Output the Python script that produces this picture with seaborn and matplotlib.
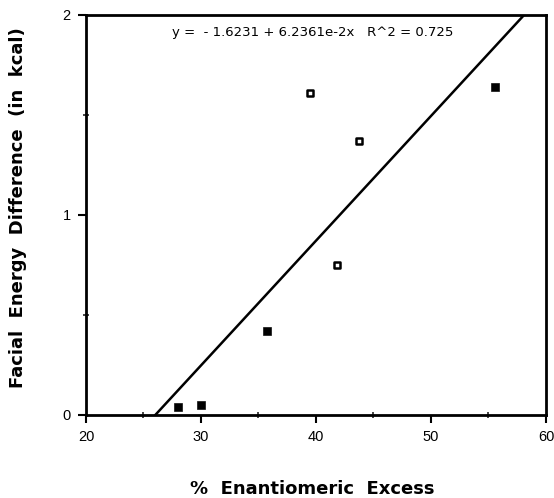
import matplotlib
matplotlib.use("Agg")
import matplotlib.pyplot as plt
import seaborn as sns
import numpy as np
import pandas as pd

# Data
enantiomeric_excess = [28.0, 30.0, 35.75, 39.5, 41.8, 43.75, 55.6]
energy_difference = [0.04, 0.05, 0.42, 1.61, 0.75, 1.37, 1.64]
hollow = [False, False, False, True, True, True, False]

# Fit line as printed on the chart
intercept = -1.6231
slope = 6.2361e-2
fit_x = [20, 60]

x_ticks = [20, 30, 40, 50, 60]
y_ticks = [0, 1, 2]
equation = "y =  - 1.6231 + 6.2361e-2x   R^2 = 0.725"


def main():
    sns.set_theme(style="ticks")
    plt.rcParams["font.family"] = ["Liberation Sans", "DejaVu Sans"]
    plt.rcParams["text.color"] = "black"
    plt.rcParams["axes.labelcolor"] = "black"

    df = pd.DataFrame({"x": enantiomeric_excess, "y": energy_difference, "hollow": hollow})
    fit = pd.DataFrame({"x": fit_x})
    fit["y"] = intercept + slope * fit["x"]

    fig = plt.figure(figsize=(5.54, 4.98), dpi=100)
    ax = fig.add_axes([0.1552, 0.1667, 0.8303, 0.8032])

    sns.lineplot(data=fit, x="x", y="y", color="black", linewidth=1.8, ax=ax)
    sns.scatterplot(data=df[~df["hollow"]], x="x", y="y", marker="s", s=30,
                    color="black", edgecolor="black", ax=ax, zorder=3)
    sns.scatterplot(data=df[df["hollow"]], x="x", y="y", marker="s", s=22,
                    color="white", edgecolor="black", linewidth=1.8, ax=ax, zorder=3)

    ax.set_xlim(20, 60)
    ax.set_ylim(0, 2)
    ax.set_xticks(x_ticks)
    ax.set_yticks(y_ticks)
    ax.set_xticks([25, 35, 45, 55], minor=True)
    ax.set_yticks([0.5, 1.5], minor=True)
    ax.tick_params(which="major", direction="out", length=6, width=1.5,
                   labelsize=10.5, colors="black", pad=5)
    ax.tick_params(which="minor", direction="inout", length=5, width=1.2)

    for sp in ax.spines.values():
        sp.set_linewidth(2)
        sp.set_color("black")

    ax.text(0.187, 0.955, equation, transform=ax.transAxes, fontsize=9.5,
            family="DejaVu Sans", ha="left", va="center")

    ax.set_xlabel("%  Enantiomeric  Excess", fontsize=13, fontweight="bold",
                  family="DejaVu Sans")
    ax.set_ylabel("Facial  Energy  Difference  (in  kcal)", fontsize=13,
                  fontweight="bold", family="DejaVu Sans")
    ax.xaxis.set_label_coords(0.492, -0.163)
    ax.yaxis.set_label_coords(-0.128, 0.5175)

    fig.savefig("out.png", dpi=100)
    plt.close(fig)


if __name__ == "__main__":
    main()
